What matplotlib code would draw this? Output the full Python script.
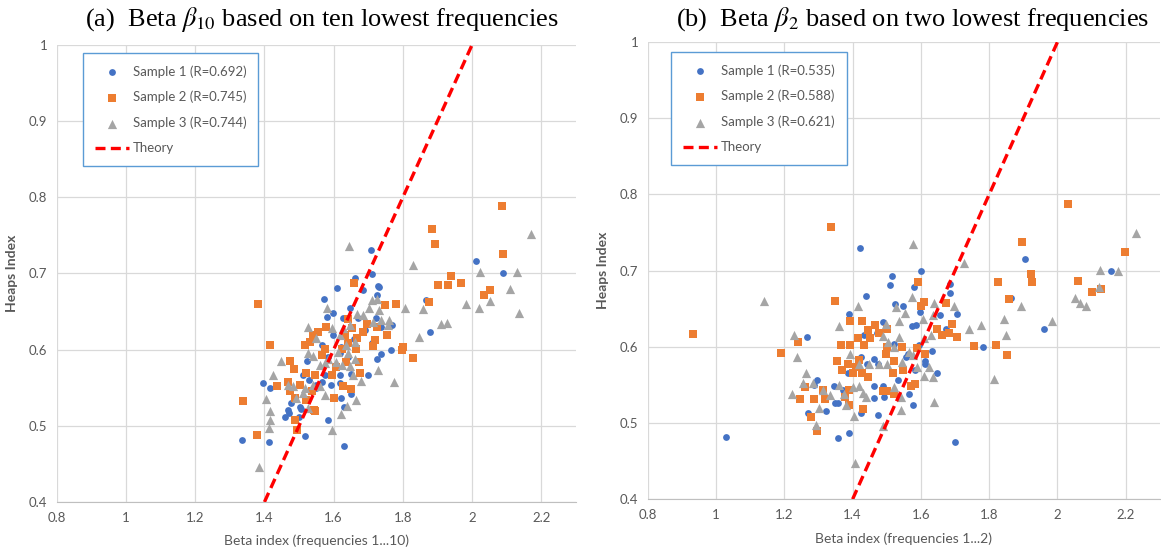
import numpy as np
import matplotlib
matplotlib.use("Agg")
import matplotlib.pyplot as plt
from matplotlib.ticker import FuncFormatter

plt.rcParams['font.family'] = ['Lato', 'DejaVu Sans']
plt.rcParams['mathtext.fontset'] = 'stix'

# ---- data: panel (a), beta from ten lowest frequencies ----
a_sample1 = [
    (1.709, 0.731), (2.012, 0.716), (2.090, 0.701), (1.663, 0.694), (1.711, 0.699),
    (1.609, 0.681), (1.685, 0.678), (1.731, 0.682), (1.571, 0.667), (1.866, 0.665),
    (1.724, 0.671), (1.648, 0.654), (1.580, 0.643), (1.627, 0.642), (1.721, 0.641),
    (1.878, 0.623), (1.770, 0.632), (1.765, 0.599), (1.736, 0.594), (1.724, 0.587),
    (1.699, 0.566), (1.395, 0.556), (1.417, 0.550), (1.511, 0.567), (1.460, 0.511),
    (1.472, 0.517), (1.500, 0.511), (1.506, 0.522), (1.585, 0.508), (1.518, 0.486),
    (1.334, 0.481), (1.414, 0.479), (1.630, 0.473), (1.620, 0.537), (1.629, 0.524),
    (1.651, 0.542), (1.619, 0.556), (1.592, 0.553), (1.565, 0.606), (1.597, 0.619),
    (1.619, 0.596), (1.651, 0.568), (1.567, 0.557), (1.548, 0.550), (1.524, 0.585),
    (1.599, 0.648), (1.530, 0.560), (1.550, 0.554), (1.574, 0.567), (1.478, 0.530),
    (1.468, 0.521), (1.502, 0.525), (1.727, 0.684), (1.671, 0.641), (1.738, 0.630),
    (1.711, 0.609), (1.618, 0.567), (1.622, 0.603), (1.660, 0.614), (1.690, 0.626),
    (1.585, 0.590), (1.640, 0.590),
]
a_sample2 = [
    (2.086, 0.789), (1.883, 0.758), (1.892, 0.739), (2.089, 0.725), (1.938, 0.697),
    (1.901, 0.685), (1.931, 0.685), (1.967, 0.688), (2.053, 0.678), (2.035, 0.672),
    (1.876, 0.663), (1.780, 0.660), (1.749, 0.658), (1.382, 0.660), (1.416, 0.606),
    (1.658, 0.688), (1.799, 0.603), (1.797, 0.600), (1.829, 0.589), (1.339, 0.533),
    (1.378, 0.488), (1.493, 0.494), (1.488, 0.508), (1.546, 0.519), (1.651, 0.548),
    (1.600, 0.537), (1.676, 0.569), (1.641, 0.640), (1.695, 0.633), (1.755, 0.619),
    (1.719, 0.612), (1.714, 0.605), (1.475, 0.585), (1.485, 0.575), (1.516, 0.606),
    (1.532, 0.610), (1.540, 0.619), (1.555, 0.623), (1.579, 0.630), (1.574, 0.601),
    (1.565, 0.593), (1.521, 0.569), (1.545, 0.567), (1.468, 0.557), (1.502, 0.554),
    (1.488, 0.536), (1.521, 0.534), (1.543, 0.521), (1.435, 0.552), (1.473, 0.545),
    (1.536, 0.545), (1.654, 0.628), (1.632, 0.619), (1.666, 0.615), (1.685, 0.623),
    (1.724, 0.630), (1.642, 0.608), (1.623, 0.601), (1.664, 0.601), (1.674, 0.584),
    (1.635, 0.584), (1.606, 0.577), (1.594, 0.567), (1.627, 0.552),
]
a_sample3 = [
    (1.643, 0.736), (2.171, 0.752), (1.828, 0.711), (2.024, 0.702), (2.129, 0.702),
    (2.111, 0.679), (1.982, 0.660), (2.020, 0.654), (2.051, 0.664), (2.135, 0.648),
    (1.807, 0.654), (1.858, 0.653), (1.910, 0.634), (1.927, 0.635), (1.846, 0.617),
    (1.775, 0.558), (1.727, 0.573), (1.581, 0.654), (1.527, 0.630), (1.447, 0.585),
    (1.425, 0.567), (1.405, 0.535), (1.415, 0.520), (1.415, 0.508), (1.412, 0.497),
    (1.384, 0.446), (1.596, 0.495), (1.620, 0.516), (1.664, 0.534), (1.639, 0.526),
    (1.680, 0.559), (1.594, 0.628), (1.550, 0.615), (1.526, 0.595), (1.540, 0.591),
    (1.560, 0.580), (1.574, 0.582), (1.583, 0.588), (1.468, 0.554), (1.483, 0.552),
    (1.516, 0.549), (1.540, 0.554), (1.560, 0.552), (1.574, 0.541), (1.512, 0.543),
    (1.492, 0.536), (1.526, 0.523), (1.711, 0.665), (1.726, 0.666), (1.731, 0.652),
    (1.703, 0.654), (1.685, 0.645), (1.666, 0.647), (1.738, 0.639), (1.760, 0.639),
    (1.757, 0.632), (1.714, 0.636), (1.647, 0.632), (1.627, 0.628), (1.618, 0.619),
    (1.661, 0.610), (1.637, 0.606), (1.613, 0.597), (1.642, 0.595), (1.661, 0.588),
    (1.656, 0.567), (1.647, 0.578), (1.608, 0.584), (1.623, 0.580),
]

# ---- data: panel (b), beta from two lowest frequencies ----
b_sample1 = [
    (1.422, 0.730), (1.905, 0.715), (2.156, 0.700), (1.599, 0.700), (1.515, 0.693),
    (1.510, 0.681), (1.579, 0.678), (1.439, 0.667), (1.864, 0.664), (1.525, 0.656),
    (1.548, 0.653), (1.597, 0.646), (1.657, 0.642), (1.707, 0.643), (1.390, 0.643),
    (1.685, 0.682), (1.685, 0.671), (1.960, 0.623), (1.781, 0.600), (1.585, 0.628),
    (1.575, 0.627), (1.488, 0.632), (1.433, 0.616), (1.470, 0.618), (1.265, 0.613),
    (1.673, 0.624), (1.663, 0.616), (1.632, 0.594), (1.612, 0.582), (1.612, 0.577),
    (1.593, 0.603), (1.561, 0.591), (1.647, 0.566), (1.583, 0.570), (1.556, 0.587),
    (1.532, 0.556), (1.566, 0.538), (1.576, 0.524), (1.488, 0.549), (1.463, 0.549),
    (1.463, 0.584), (1.473, 0.577), (1.441, 0.578), (1.424, 0.587), (1.385, 0.565),
    (1.371, 0.543), (1.346, 0.549), (1.349, 0.526), (1.356, 0.526), (1.295, 0.556),
    (1.288, 0.550), (1.322, 0.516), (1.268, 0.513), (1.424, 0.513), (1.463, 0.533),
    (1.493, 0.534), (1.473, 0.510), (1.388, 0.487), (1.358, 0.480), (1.029, 0.481),
    (1.700, 0.475), (1.522, 0.604),
]
b_sample2 = [
    (2.031, 0.788), (1.338, 0.757), (1.895, 0.737), (1.922, 0.695), (1.925, 0.685),
    (1.826, 0.685), (1.858, 0.663), (2.059, 0.687), (2.102, 0.672), (2.129, 0.676),
    (2.199, 0.725), (1.591, 0.685), (1.349, 0.660), (0.932, 0.617), (1.191, 0.592),
    (1.239, 0.606), (1.757, 0.601), (1.820, 0.603), (1.853, 0.589), (1.608, 0.659),
    (1.599, 0.653), (1.673, 0.658), (1.647, 0.623), (1.690, 0.630), (1.683, 0.618),
    (1.706, 0.613), (1.663, 0.615), (1.393, 0.634), (1.426, 0.634), (1.444, 0.622),
    (1.466, 0.628), (1.478, 0.618), (1.500, 0.623), (1.415, 0.612), (1.451, 0.612),
    (1.366, 0.603), (1.391, 0.603), (1.432, 0.603), (1.502, 0.600), (1.546, 0.600),
    (1.588, 0.598), (1.612, 0.591), (1.354, 0.582), (1.387, 0.578), (1.369, 0.570),
    (1.420, 0.583), (1.410, 0.573), (1.400, 0.565), (1.426, 0.565), (1.444, 0.560),
    (1.521, 0.582), (1.517, 0.566), (1.498, 0.591), (1.548, 0.569), (1.570, 0.549),
    (1.583, 0.551), (1.261, 0.547), (1.312, 0.543), (1.247, 0.532), (1.286, 0.532),
    (1.319, 0.531), (1.377, 0.534), (1.390, 0.543), (1.488, 0.542), (1.502, 0.542),
    (1.522, 0.538), (1.388, 0.524), (1.429, 0.518), (1.278, 0.508), (1.296, 0.490),
]
b_sample3 = [
    (1.577, 0.735), (1.726, 0.710), (2.230, 0.749), (2.125, 0.701), (2.176, 0.700),
    (2.123, 0.678), (2.050, 0.664), (2.066, 0.658), (2.084, 0.653), (1.894, 0.653),
    (1.984, 0.634), (1.842, 0.636), (1.848, 0.616), (1.741, 0.624), (1.776, 0.628),
    (1.813, 0.558), (1.141, 0.660), (1.227, 0.616), (1.237, 0.586), (1.264, 0.565),
    (1.254, 0.553), (1.283, 0.552), (1.222, 0.538), (1.312, 0.543), (1.334, 0.537),
    (1.294, 0.498), (1.302, 0.520), (1.408, 0.448), (1.488, 0.496), (1.416, 0.654),
    (1.361, 0.627), (1.574, 0.665), (1.639, 0.658), (1.697, 0.654), (1.527, 0.652),
    (1.537, 0.634), (1.554, 0.644), (1.498, 0.630), (1.605, 0.636), (1.636, 0.642),
    (1.631, 0.615), (1.610, 0.611), (1.537, 0.613), (1.505, 0.606), (1.490, 0.614),
    (1.522, 0.600), (1.566, 0.593), (1.576, 0.589), (1.392, 0.590), (1.420, 0.578),
    (1.449, 0.578), (1.478, 0.578), (1.502, 0.578), (1.546, 0.580), (1.590, 0.573),
    (1.610, 0.562), (1.634, 0.560), (1.624, 0.573), (1.359, 0.550), (1.376, 0.538),
    (1.400, 0.547), (1.420, 0.549), (1.439, 0.534), (1.429, 0.540), (1.522, 0.547),
    (1.541, 0.534), (1.381, 0.523), (1.403, 0.509), (1.543, 0.517), (1.637, 0.527),
]

a_labels = ["Sample 1 (R=0.692)", "Sample 2 (R=0.745)", "Sample 3 (R=0.744)"]
b_labels = ["Sample 1 (R=0.535)", "Sample 2 (R=0.588)", "Sample 3 (R=0.621)"]

# theory: heaps index = beta - 1
theory_x = [1.4, 2.0]
theory_y = [0.4, 1.0]

x_ticks = [0.8, 1.0, 1.2, 1.4, 1.6, 1.8, 2.0, 2.2]
y_ticks = [0.4, 0.5, 0.6, 0.7, 0.8, 0.9, 1.0]

colors = ['#4472C4', '#ED7D31', '#A5A5A5']
markers = ['o', 's', '^']
sizes = [24, 26, 44]
txt_col = '#595959'


def panel(ax, samples, labels, xlabel, legend_anchor):
    for pts, lab, c, m, s in zip(samples, labels, colors, markers, sizes):
        arr = np.array(pts)
        ax.scatter(arr[:, 0], arr[:, 1], s=s, marker=m, color=c,
                   linewidths=0, label=lab, zorder=3)
    ax.plot(theory_x, theory_y, color='#FF0000', ls=(0, (3, 1.6)), lw=2.4,
            label='Theory', zorder=4)

    ax.set_xlim(0.8, 2.3)
    ax.set_ylim(0.4, 1.0)
    ax.set_xticks(x_ticks)
    ax.set_yticks(y_ticks)
    ax.xaxis.set_major_formatter(FuncFormatter(lambda v, p: '%g' % round(v, 2)))
    ax.yaxis.set_major_formatter(FuncFormatter(lambda v, p: '%g' % round(v, 2)))
    ax.grid(True, color='#D9D9D9', lw=0.9)
    ax.set_axisbelow(True)
    for sp in ['top', 'right', 'left']:
        ax.spines[sp].set_visible(False)
    ax.spines['bottom'].set_color('#BFBFBF')
    ax.tick_params(length=0, labelsize=9.5, colors=txt_col, pad=7)

    ax.set_xlabel(xlabel, fontsize=10, color=txt_col, labelpad=8)
    ax.set_ylabel('Heaps Index', fontsize=10, color=txt_col, fontweight='bold',
                  labelpad=8)

    leg = ax.legend(loc='upper left', bbox_to_anchor=legend_anchor, fontsize=9.5,
                    frameon=True, fancybox=False, edgecolor='#5B9BD5',
                    framealpha=1, labelspacing=1.0, borderpad=0.9,
                    handlelength=2.6, handletextpad=0.3, borderaxespad=0)
    leg.get_frame().set_linewidth(1.0)
    for t in leg.get_texts():
        t.set_color(txt_col)


fig = plt.figure(figsize=(11.61, 5.54), dpi=100)
ax1 = fig.add_axes([0.049, 0.094, 0.447, 0.825])
ax2 = fig.add_axes([0.558, 0.099, 0.441, 0.825])

panel(ax1, [a_sample1, a_sample2, a_sample3], a_labels,
      'Beta index (frequencies 1...10)', (0.05, 0.982))
panel(ax2, [b_sample1, b_sample2, b_sample3], b_labels,
      'Beta index (frequencies 1...2)', (0.045, 0.978))

fig.text(0.277, 0.965, r'(a)  Beta $\beta_{10}$ based on ten lowest frequencies',
         ha='center', va='center', fontsize=19, family='Liberation Serif')
fig.text(0.786, 0.965, r'(b)  Beta $\beta_{2}$ based on two lowest frequencies',
         ha='center', va='center', fontsize=19, family='Liberation Serif')

fig.savefig('out.png', dpi=100)
